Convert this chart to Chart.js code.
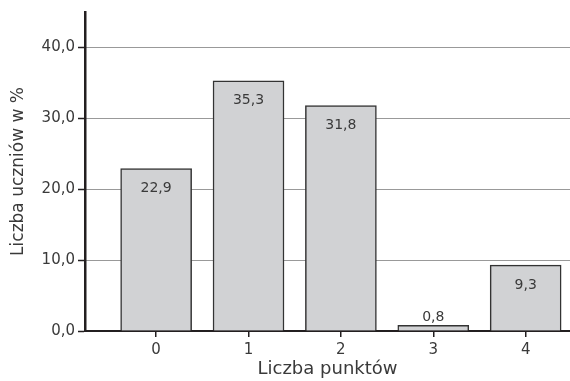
<!DOCTYPE html>
<html>
<head>
<meta charset="utf-8">
<script src="https://cdn.jsdelivr.net/npm/chart.js@4/dist/chart.umd.min.js"></script>
<style>
html,body{margin:0;padding:0;background:#fff;}
#wrap{width:570px;height:381px;position:relative;}
</style>
</head>
<body>
<div id="wrap"><canvas id="c" width="570" height="381"></canvas></div>
<script>
const categories = [0, 1, 2, 3, 4];
const values = [22.9, 35.3, 31.8, 0.8, 9.3];
const valueLabels = ['22,9', '35,3', '31,8', '0,8', '9,3'];
const yTicks = [0, 10, 20, 30, 40];
const xTitle = 'Liczba punktów';
const yTitle = 'Liczba uczniów w %';

const FONT = '"DejaVu Sans", sans-serif';
const TEXT = '#3a3a3a';

const labelPlugin = {
  id: 'valueLabels',
  afterDatasetsDraw(chart) {
    const ctx = chart.ctx;
    const meta = chart.getDatasetMeta(0);
    ctx.save();
    ctx.font = '14px ' + FONT;
    ctx.fillStyle = TEXT;
    ctx.textAlign = 'center';
    ctx.textBaseline = 'middle';
    meta.data.forEach((bar, i) => {
      const h = bar.base - bar.y;
      const y = h > 30 ? bar.y + 20 : bar.y - 8;
      ctx.fillText(valueLabels[i], bar.x, y);
    });
    ctx.restore();
  }
};

new Chart(document.getElementById('c'), {
  type: 'bar',
  data: {
    datasets: [{
      data: categories.map((c, i) => ({x: c, y: values[i]})),
      backgroundColor: '#d1d2d4',
      borderColor: '#333333',
      borderWidth: 1.5,
      borderSkipped: 'bottom',
      barThickness: 71
    }]
  },
  options: {
    responsive: false,
    animation: false,
    layout: {padding: {top: 12, right: 0, left: 0, bottom: 0}},
    plugins: {legend: {display: false}, tooltip: {enabled: false}},
    scales: {
      x: {
        type: 'linear',
        offset: false,
        min: -0.77,
        max: 4.48,
        afterBuildTicks(scale) { scale.ticks = categories.map(v => ({value: v})); },
        afterFit(scale) { scale.height = 50; },
        grid: {offset: false, drawOnChartArea: false, drawTicks: true, tickLength: 6, color: '#231f20', lineWidth: 1.5},
        border: {display: true, color: '#231f20', width: 2},
        ticks: {
          color: TEXT,
          font: {family: FONT, size: 15},
          padding: 4,
          callback: v => String(v)
        },
        title: {display: true, text: xTitle, color: TEXT, font: {family: FONT, size: 18}, padding: {top: 0, bottom: 1}}
      },
      y: {
        min: 0,
        max: 45,
        afterBuildTicks(scale) { scale.ticks = yTicks.map(v => ({value: v})); },
        afterFit(scale) { scale.width = 85; },
        grid: {
          drawOnChartArea: true, drawTicks: true, tickLength: 7,
          color: '#333333', lineWidth: 1, borderDash: [1, 1],
          tickColor: '#231f20', tickWidth: 1.5, tickBorderDash: []
        },
        border: {display: true, color: '#231f20', width: 2.5, dash: [1, 1]},
        ticks: {
          color: TEXT,
          font: {family: FONT, size: 15},
          padding: 3,
          callback: v => v.toFixed(1).replace('.', ',')
        },
        title: {display: true, text: yTitle, color: TEXT, font: {family: FONT, size: 17}, padding: {top: 8, bottom: 0}}
      }
    }
  },
  plugins: [labelPlugin]
});
</script>
</body>
</html>
